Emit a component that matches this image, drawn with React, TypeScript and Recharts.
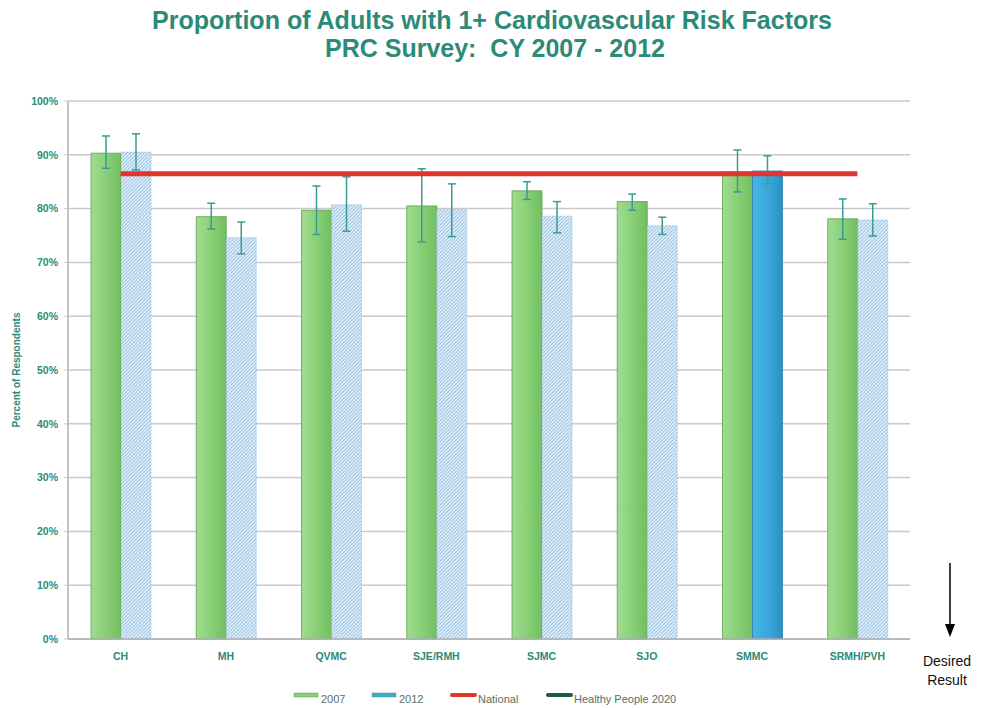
import React from 'react';
import { ComposedChart, Bar, Line, XAxis, YAxis, CartesianGrid, ErrorBar, Cell } from 'recharts';

const categories = ['CH', 'MH', 'QVMC', 'SJE/RMH', 'SJMC', 'SJO', 'SMMC', 'SRMH/PVH'];
const values2007 = [90.3, 78.5, 79.7, 80.5, 83.3, 81.3, 86.8, 78.1];
const low2007 = [87.5, 76.2, 75.2, 73.8, 81.7, 79.7, 83.1, 74.3];
const high2007 = [93.5, 81.0, 84.2, 87.4, 85.0, 82.7, 90.9, 81.8];
const values2012 = [90.5, 74.6, 80.7, 79.8, 78.6, 76.8, 87.0, 77.9];
const low2012 = [87.2, 71.6, 75.8, 74.8, 75.5, 75.2, 84.6, 74.9];
const high2012 = [93.9, 77.5, 85.9, 84.6, 81.3, 78.4, 89.8, 80.9];
const nationalValue = 86.5;
const solid2012 = ['SMMC'];
const yTicks = [0, 10, 20, 30, 40, 50, 60, 70, 80, 90, 100];
const legendItems = [
  { name: '2007', kind: 'bar', color: '#86cf76' },
  { name: '2012', kind: 'bar', color: '#38a9dc' },
  { name: 'National', kind: 'line', color: '#e0352b' },
  { name: 'Healthy People 2020', kind: 'line', color: '#1d5a42' },
];

const data = categories.map((c, i) => ({
  name: c,
  y2007: values2007[i],
  e2007: [values2007[i] - low2007[i], high2007[i] - values2007[i]],
  y2012: values2012[i],
  e2012: [values2012[i] - low2012[i], high2012[i] - values2012[i]],
  national: nationalValue,
}));

const TEAL = '#2b8a78';
const ERR = '#3a9b93';

export default function App() {
  return (
    <div style={{ position: 'absolute', left: 0, top: 0, width: 981, height: 708, background: '#ffffff', fontFamily: 'Arial, "Liberation Sans", sans-serif', overflow: 'hidden' }}>
      <svg width={0} height={0} style={{ position: 'absolute' }}>
        <defs>
          <linearGradient id="g2007" x1="0" y1="0" x2="1" y2="0">
            <stop offset="0%" stopColor="#a0dc90" />
            <stop offset="50%" stopColor="#89d077" />
            <stop offset="100%" stopColor="#72be60" />
          </linearGradient>
          <linearGradient id="g2012solid" x1="0" y1="0" x2="1" y2="0">
            <stop offset="0%" stopColor="#46b6e6" />
            <stop offset="60%" stopColor="#36a6da" />
            <stop offset="100%" stopColor="#2a8fc4" />
          </linearGradient>
          <pattern id="hatch" patternUnits="userSpaceOnUse" width="3.5" height="3.5">
            <rect width="3.5" height="3.5" fill="#eef6fc" />
            <path d="M-1,1 l2,-2 M0,3.5 l3.5,-3.5 M2.5,4.5 l2,-2" stroke="#7fb4dd" strokeWidth="0.9" />
          </pattern>
        </defs>
      </svg>
      <ComposedChart
        width={981}
        height={708}
        data={data}
        margin={{ top: 101, right: 71, bottom: 39, left: 8 }}
        barGap={0}
        barSize={30}
      >
        <CartesianGrid vertical={false} stroke="#c9c9c9" strokeWidth={1.5} />
        <XAxis
          dataKey="name"
          height={30}
          axisLine={{ stroke: '#b0b0b0', strokeWidth: 1.5 }}
          tickLine={false}
          tickMargin={8}
          tick={{ fill: TEAL, fontSize: 10.5, fontWeight: 'bold' }}
          interval={0}
        />
        <YAxis
          width={60}
          domain={[0, 100]}
          ticks={yTicks}
          tickFormatter={(v: number) => `${v}%`}
          axisLine={{ stroke: '#b0b0b0', strokeWidth: 1.5 }}
          tickLine={{ stroke: '#c9c9c9' }}
          tickSize={4}
          tickMargin={6}
          tick={{ fill: TEAL, fontSize: 10.5, fontWeight: 'bold' }}
        />
        <Bar dataKey="y2007" fill="url(#g2007)" stroke="#5aa04e" strokeWidth={0.8} isAnimationActive={false}>
          <ErrorBar dataKey="e2007" width={4} stroke={ERR} strokeWidth={1.5} />
        </Bar>
        <Bar dataKey="y2012" fill="url(#hatch)" stroke="#8ab4d8" strokeWidth={0.8} strokeDasharray="1 1" isAnimationActive={false}>
          {data.map((d) => (
            <Cell
              key={d.name}
              fill={solid2012.includes(d.name) ? 'url(#g2012solid)' : 'url(#hatch)'}
              stroke={solid2012.includes(d.name) ? '#2a7fb0' : '#8ab4d8'}
              strokeDasharray={solid2012.includes(d.name) ? undefined : '1 1'}
            />
          ))}
          <ErrorBar dataKey="e2012" width={4} stroke={ERR} strokeWidth={1.5} />
        </Bar>
        <Line dataKey="national" stroke="#e0352b" strokeWidth={5} dot={false} activeDot={false} isAnimationActive={false} />
      </ComposedChart>
      <svg width={981} height={708} style={{ position: 'absolute', left: 0, top: 0, pointerEvents: 'none' }}>
        <text x={492} y={29} textAnchor="middle" fill={TEAL} fontSize={25} fontWeight="bold" textLength={680} lengthAdjust="spacingAndGlyphs">
          Proportion of Adults with 1+ Cardiovascular Risk Factors
        </text>
        <text x={495} y={57} textAnchor="middle" fill={TEAL} fontSize={25} fontWeight="bold" textLength={340} lengthAdjust="spacingAndGlyphs" style={{ whiteSpace: 'pre' }}>
          {'PRC Survey:  CY 2007 - 2012'}
        </text>
        <text x={20} y={370} transform="rotate(-90 20 370)" textAnchor="middle" fill={TEAL} fontSize={10} fontWeight="bold">
          Percent of Respondents
        </text>
        <line x1={950} y1={563} x2={950} y2={626} stroke="#000" strokeWidth={1.5} />
        <polygon points="945,624 955,624 950,637" fill="#000" />
        <text x={947} y={666} textAnchor="middle" fill="#111" fontSize={14}>Desired</text>
        <text x={947} y={685} textAnchor="middle" fill="#111" fontSize={14}>Result</text>
        {legendItems.map((it, i) => {
          const xs = [294, 372, 450, 546][i];
          return (
            <g key={it.name}>
              {it.kind === 'bar' ? (
                <rect x={xs} y={693} width={24} height={4} fill={it.color} stroke="#6a9a60" strokeWidth={0.5} />
              ) : (
                <rect x={xs} y={693} width={27} height={4} rx={2} fill={it.color} />
              )}
              <text x={xs + (it.kind === 'bar' ? 27 : 28)} y={703} fill="#5c6d62" fontSize={11}>{it.name}</text>
            </g>
          );
        })}
      </svg>
    </div>
  );
}
